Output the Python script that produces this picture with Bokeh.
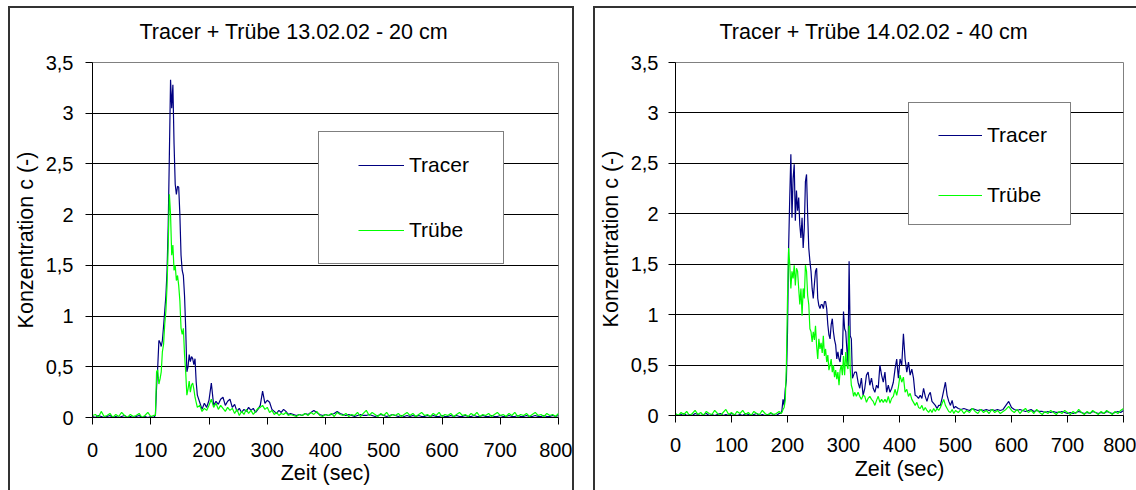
from bokeh.plotting import figure
from bokeh.layouts import row
from bokeh.models import (Range1d, FixedTicker, CustomJSTickFormatter, Legend, LegendItem, Title)
from bokeh.embed import file_html
from bokeh.resources import INLINE

FONT = "Liberation Sans"
TRACER_COLOR = "#000080"
TRUEBE_COLOR = "#00FF00"

# ---------------- data ----------------
x_ticks = [0, 100, 200, 300, 400, 500, 600, 700, 800]
y_ticks = [0, 0.5, 1, 1.5, 2, 2.5, 3, 3.5]

titles = ["Tracer + Trübe 13.02.02 - 20 cm", "Tracer + Trübe 14.02.02 - 40 cm"]
series_names = ["Tracer", "Trübe"]

# 13.02.02 - 20 cm  (sampling times in sec)
time_20cm = (list(range(0, 106, 5)) + list(range(108, 181, 2))
             + list(range(184, 341, 4)) + list(range(345, 801, 5)))
tracer_20cm = [
    0.01, 0.0, 0.02, 0.01, 0.0, 0.01, 0.02, 0.0, 0.01, 0.0, 0.01, 0.02, 0.0, 0.01, 0.0, 0.01, 0.02, 0.0, 0.01, 0.0, 0.01, 0.0,
    0.02, 0.3, 0.5, 0.76, 0.74, 0.7, 0.76, 0.9, 1.05, 1.2,
    1.45, 1.9, 2.6, 3.33, 3.05, 3.28, 2.7, 2.3, 2.2, 2.28,
    2.27, 2.0, 1.6, 1.45, 1.4, 1.2, 0.88, 0.45, 0.5, 0.62,
    0.55, 0.6, 0.58, 0.52, 0.58, 0.35, 0.22,
    0.15, 0.08, 0.14, 0.1, 0.17, 0.34, 0.12, 0.16, 0.13, 0.18,
    0.2, 0.12, 0.16, 0.18, 0.1, 0.13, 0.06, 0.09, 0.05, 0.08,
    0.06, 0.1, 0.07, 0.09, 0.05, 0.08, 0.12, 0.26, 0.14, 0.17,
    0.15, 0.08, 0.06, 0.04, 0.07, 0.05, 0.08, 0.06, 0.03, 0.04,
    0.03, 0.02, 0.03, 0.02, 0.04, 0.03, 0.05, 0.07, 0.05, 0.03,
    0.02, 0.03, 0.02, 0.03, 0.04, 0.06, 0.04, 0.03, 0.02, 0.03,
    0.02, 0.01, 0.02, 0.03, 0.02, 0.02, 0.03, 0.02, 0.01, 0.02,
    0.03, 0.02, 0.01, 0.02, 0.03, 0.02, 0.01, 0.02, 0.01, 0.02,
    0.01, 0.02, 0.01, 0.02, 0.01, 0.01, 0.02, 0.01, 0.02, 0.01,
    0.01, 0.02, 0.01, 0.01, 0.02, 0.01, 0.02, 0.01, 0.01, 0.02,
    0.01, 0.01, 0.02, 0.01, 0.01, 0.02, 0.01, 0.01, 0.02, 0.01,
    0.01, 0.02, 0.01, 0.01, 0.02, 0.01, 0.01, 0.02, 0.01, 0.01,
    0.02, 0.01, 0.01, 0.02, 0.01, 0.01, 0.02, 0.01, 0.01, 0.02,
    0.01, 0.02,
]
truebe_20cm = [
    0.02, 0.03, 0.0, 0.06, 0.01, 0.02, 0.04, 0.0, 0.03, 0.01, 0.05, 0.02, 0.0, 0.03, 0.01, 0.02, 0.04, 0.0, 0.02, 0.05, 0.01, 0.02,
    0.02, 0.45, 0.47, 0.33, 0.38, 0.45, 0.65, 0.72, 0.92, 1.05,
    1.3, 1.7, 2.2, 2.0, 1.6, 1.7, 1.45, 1.5, 1.35, 1.4,
    1.3, 1.15, 0.88, 0.82, 0.88, 0.62, 0.45, 0.22, 0.28, 0.36,
    0.25, 0.32, 0.34, 0.28, 0.2, 0.15, 0.1,
    0.12, 0.06, 0.09, 0.07, 0.12, 0.18, 0.1, 0.14, 0.08, 0.12,
    0.09, 0.06, 0.1, 0.07, 0.09, 0.04, 0.08, 0.02, 0.06, 0.03,
    0.08, 0.04, 0.07, 0.03, 0.06, 0.09, 0.1, 0.12, 0.08, 0.1,
    0.05, 0.07, 0.03, 0.05, 0.02, 0.04, 0.03, 0.05, 0.02, 0.03,
    0.02, 0.01, 0.03, 0.02, 0.04, 0.02, 0.05, 0.03, 0.06, 0.02,
    0.01, 0.03, 0.02, 0.04, 0.01, 0.05, 0.03, 0.02, 0.04, 0.01,
    0.03, 0.02, 0.05, 0.01, 0.04, 0.07, 0.02, 0.05, 0.03, 0.01,
    0.04, 0.02, 0.05, 0.01, 0.03, 0.02, 0.04, 0.01, 0.03, 0.05,
    0.02, 0.04, 0.01, 0.03, 0.05, 0.02, 0.03, 0.01, 0.04, 0.02,
    0.05, 0.01, 0.03, 0.02, 0.04, 0.01, 0.03, 0.05, 0.02, 0.03,
    0.01, 0.04, 0.02, 0.05, 0.01, 0.03, 0.02, 0.04, 0.01, 0.03,
    0.05, 0.02, 0.03, 0.01, 0.04, 0.02, 0.05, 0.01, 0.03, 0.02,
    0.04, 0.01, 0.03, 0.05, 0.02, 0.03, 0.01, 0.04, 0.02, 0.03,
    0.01, 0.04,
]

# 14.02.02 - 40 cm
time_40cm = (list(range(0, 186, 5)) + list(range(188, 321, 2))
             + list(range(323, 501, 3)) + list(range(505, 801, 5)))
tracer_40cm = [
    0.01, 0.0, 0.01, 0.02, 0.0, 0.01, 0.0, 0.02, 0.01, 0.0,
    0.01, 0.02, 0.0, 0.01, 0.0, 0.01, 0.02, 0.0, 0.01, 0.0,
    0.02, 0.01, 0.0, 0.01, 0.0, 0.02, 0.01, 0.0, 0.01, 0.02,
    0.0, 0.01, 0.0, 0.01, 0.02, 0.01, 0.0, 0.02,
    0.02, 0.05, 0.16, 0.1, 0.26, 0.35,
    0.83, 1.66, 2.16, 2.59, 1.96, 2.35, 2.49, 1.93, 2.23, 2.03,
    2.16, 1.89, 1.76, 1.96, 1.66, 1.86, 2.32, 2.39, 1.99, 1.66,
    1.53, 1.43, 1.26, 1.16, 1.3, 1.43, 1.46, 1.16, 1.09, 1.06,
    1.1, 1.1, 1.06, 1.13, 1.13, 1.06, 0.9, 0.8, 0.76, 0.9,
    0.96, 0.83, 0.75, 0.7, 0.56, 0.63, 0.56, 0.53, 0.66, 0.6,
    1.03, 0.86, 0.83, 0.66, 0.5, 1.53, 0.79, 0.76, 0.37, 0.4, 0.43,
    0.43, 0.33, 0.27, 0.37, 0.2, 0.27, 0.4, 0.43, 0.3, 0.37,
    0.27, 0.23, 0.3, 0.27, 0.5, 0.4, 0.33, 0.43, 0.23, 0.3,
    0.23, 0.27, 0.33, 0.46, 0.56, 0.37, 0.56, 0.5, 0.81, 0.56,
    0.43, 0.53, 0.4, 0.46, 0.37, 0.2, 0.19, 0.17, 0.2, 0.17,
    0.27, 0.19, 0.14, 0.2, 0.23, 0.14, 0.12, 0.1, 0.07, 0.1,
    0.1, 0.17, 0.25, 0.33, 0.2, 0.14, 0.1, 0.15, 0.07, 0.09,
    0.07, 0.06, 0.07, 0.06, 0.05, 0.07, 0.06, 0.05, 0.06, 0.05,
    0.06, 0.05, 0.06, 0.05, 0.06, 0.05, 0.06, 0.1, 0.14, 0.08,
    0.06, 0.05, 0.06, 0.05, 0.04, 0.05, 0.06, 0.04, 0.05, 0.04,
    0.04, 0.03, 0.04, 0.03, 0.04, 0.03, 0.03, 0.04, 0.03, 0.02,
    0.03, 0.02, 0.03, 0.04, 0.03, 0.02, 0.03, 0.02, 0.04, 0.03,
    0.02, 0.03, 0.02, 0.04, 0.03, 0.02, 0.03, 0.04, 0.03, 0.05,
]
truebe_40cm = [
    0.02, 0.0, 0.03, 0.01, 0.04, 0.0, 0.02, 0.05, 0.01, 0.03,
    0.0, 0.04, 0.02, 0.01, 0.05, 0.02, 0.0, 0.03, 0.06, 0.01,
    0.03, 0.0, 0.04, 0.02, 0.05, 0.01, 0.03, 0.0, 0.04, 0.02,
    0.01, 0.05, 0.02, 0.0, 0.03, 0.01, 0.02, 0.04,
    0.02, 0.03, 0.06, 0.08, 0.15, 0.5,
    1.16, 1.66, 1.5, 1.26, 1.43, 1.36, 1.49, 1.29, 1.46, 1.43,
    1.26, 1.1, 1.26, 0.99, 1.26, 1.16, 1.49, 1.43, 1.19, 1.1,
    0.86, 0.83, 0.73, 0.83, 0.75, 0.89, 0.69, 0.56, 0.76, 0.66,
    0.72, 0.62, 0.79, 0.59, 0.66, 0.53, 0.6, 0.45, 0.5, 0.56,
    0.43, 0.5, 0.38, 0.45, 0.36, 0.43, 0.3, 0.45, 0.5, 0.4,
    0.59, 0.4, 0.63, 0.5, 0.46, 0.89, 0.46, 0.3, 0.26, 0.19, 0.23,
    0.19, 0.23, 0.19, 0.16, 0.2, 0.19, 0.13, 0.17, 0.19, 0.16,
    0.14, 0.1, 0.15, 0.19, 0.13, 0.16, 0.13, 0.16, 0.13, 0.19,
    0.12, 0.17, 0.19, 0.26, 0.2, 0.28, 0.4, 0.33, 0.38, 0.23,
    0.26, 0.19, 0.22, 0.16, 0.13, 0.1, 0.13, 0.08, 0.07, 0.1,
    0.05, 0.08, 0.05, 0.03, 0.06, 0.03, 0.07, 0.04, 0.07, 0.05,
    0.08, 0.12, 0.16, 0.1, 0.07, 0.04, 0.03, 0.06, 0.02, 0.05,
    0.03, 0.06, 0.02, 0.05, 0.03, 0.07, 0.04, 0.02, 0.06, 0.03,
    0.05, 0.02, 0.06, 0.03, 0.05, 0.02, 0.04, 0.06, 0.09, 0.05,
    0.03, 0.06, 0.02, 0.05, 0.07, 0.03, 0.05, 0.02, 0.06, 0.03,
    0.01, 0.04, 0.02, 0.05, 0.03, 0.01, 0.04, 0.02, 0.05, 0.03,
    0.01, 0.04, 0.02, 0.06, 0.03, 0.01, 0.04, 0.02, 0.05, 0.03,
    0.01, 0.04, 0.02, 0.05, 0.03, 0.01, 0.04, 0.02, 0.05, 0.07,
]

assert len(time_20cm) == len(tracer_20cm) == len(truebe_20cm)
assert len(time_40cm) == len(tracer_40cm) == len(truebe_40cm)

BORDER = "2px solid #333333"


def make_panel(title, t, tracer, truebe, frame_w, frame_h, mb_left, mb_right,
               mb_bottom, title_offset, box_loc, box_size, items_loc,
               glyph_w, item_spacing, x_lbl_standoff, x_title_standoff,
               y_lbl_standoff, y_title_standoff):
    p = figure(frame_width=frame_w, frame_height=frame_h,
               x_range=Range1d(x_ticks[0], x_ticks[-1]),
               y_range=Range1d(y_ticks[0], y_ticks[-1]),
               output_backend="svg", toolbar_location=None,
               min_border_left=mb_left, min_border_right=mb_right,
               min_border_top=54, min_border_bottom=mb_bottom,
               background_fill_color="white", border_fill_color="white",
               outline_line_color="#808080", outline_line_width=1,
               styles={"border-top": BORDER, "border-left": BORDER,
                       "border-right": BORDER})

    # spacer between frame and title, then the chart title above it
    p.add_layout(Title(text=" ", text_font_size="1px", standoff=16), "above")
    p.add_layout(Title(text=title, align="left", offset=title_offset,
                       text_font=FONT, text_font_size="21.5px",
                       text_font_style="normal", text_color="black",
                       standoff=0), "above")

    # axes
    for ax in (p.xaxis[0], p.yaxis[0]):
        ax.axis_line_color = "black"
        ax.axis_line_width = 1
        ax.major_tick_line_color = "black"
        ax.major_tick_out = 7
        ax.major_tick_in = 0
        ax.minor_tick_line_color = None
        ax.major_label_text_font = FONT
        ax.major_label_text_font_size = "20px"
        ax.major_label_text_color = "black"
        ax.axis_label_text_font = FONT
        ax.axis_label_text_font_size = "21.5px"
        ax.axis_label_text_font_style = "normal"
        ax.axis_label_text_color = "black"
    p.xaxis.ticker = FixedTicker(ticks=x_ticks)
    p.yaxis.ticker = FixedTicker(ticks=y_ticks)
    p.yaxis.formatter = CustomJSTickFormatter(code="return tick.toString().replace('.', ',');")
    p.xaxis.axis_label = "Zeit (sec)"
    p.yaxis.axis_label = "Konzentration c (-)"
    p.xaxis.major_label_standoff = x_lbl_standoff
    p.yaxis.major_label_standoff = y_lbl_standoff
    p.xaxis.axis_label_standoff = x_title_standoff
    p.yaxis.axis_label_standoff = y_title_standoff

    p.xgrid.visible = False
    p.ygrid.ticker = FixedTicker(ticks=y_ticks[1:-1])
    p.ygrid.grid_line_color = "black"
    p.ygrid.grid_line_width = 1

    r_tracer = p.line(t, tracer, line_color=TRACER_COLOR, line_width=1.2)
    r_truebe = p.line(t, truebe, line_color=TRUEBE_COLOR, line_width=1.2)
    dummy = p.line(t, tracer, line_alpha=0)

    # legend frame (white box)
    box = Legend(items=[LegendItem(label=" ", renderers=[dummy])],
                 location=box_loc, padding=0, margin=0, spacing=0,
                 glyph_width=1, glyph_height=box_size[1],
                 label_width=box_size[0] - 1, label_height=box_size[1],
                 label_standoff=0,
                 border_line_color="black", border_line_width=1,
                 background_fill_color="white", background_fill_alpha=1.0)
    p.add_layout(box)

    items = Legend(items=[LegendItem(label=series_names[0], renderers=[r_tracer]),
                          LegendItem(label=series_names[1], renderers=[r_truebe])],
                   location=items_loc, padding=0, margin=0, spacing=item_spacing,
                   glyph_width=glyph_w, glyph_height=24, label_height=24,
                   label_standoff=5, label_text_font=FONT,
                   label_text_font_size="21px", label_text_color="black",
                   border_line_alpha=0, background_fill_alpha=0)
    p.add_layout(items)
    return p


left = make_panel(titles[0], time_20cm, tracer_20cm, truebe_20cm,
                  frame_w=462, frame_h=353, mb_left=82, mb_right=18, mb_bottom=75,
                  title_offset=47, box_loc=(226, 153), box_size=(184, 131),
                  items_loc=(266, 175), glyph_w=46, item_spacing=41,
                  x_lbl_standoff=18, x_title_standoff=1,
                  y_lbl_standoff=12, y_title_standoff=5)
right = make_panel(titles[1], time_40cm, tracer_40cm, truebe_40cm,
                   frame_w=444, frame_h=351, mb_left=78, mb_right=17, mb_bottom=77,
                   title_offset=44, box_loc=(233, 190), box_size=(161, 121),
                   items_loc=(263, 208), glyph_w=44, item_spacing=36,
                   x_lbl_standoff=15, x_title_standoff=2,
                   y_lbl_standoff=10, y_title_standoff=5)

layout = row(left, right, spacing=19, margin=(6, 0, 0, 8))

open("out.html", "w").write(file_html(layout, INLINE))
